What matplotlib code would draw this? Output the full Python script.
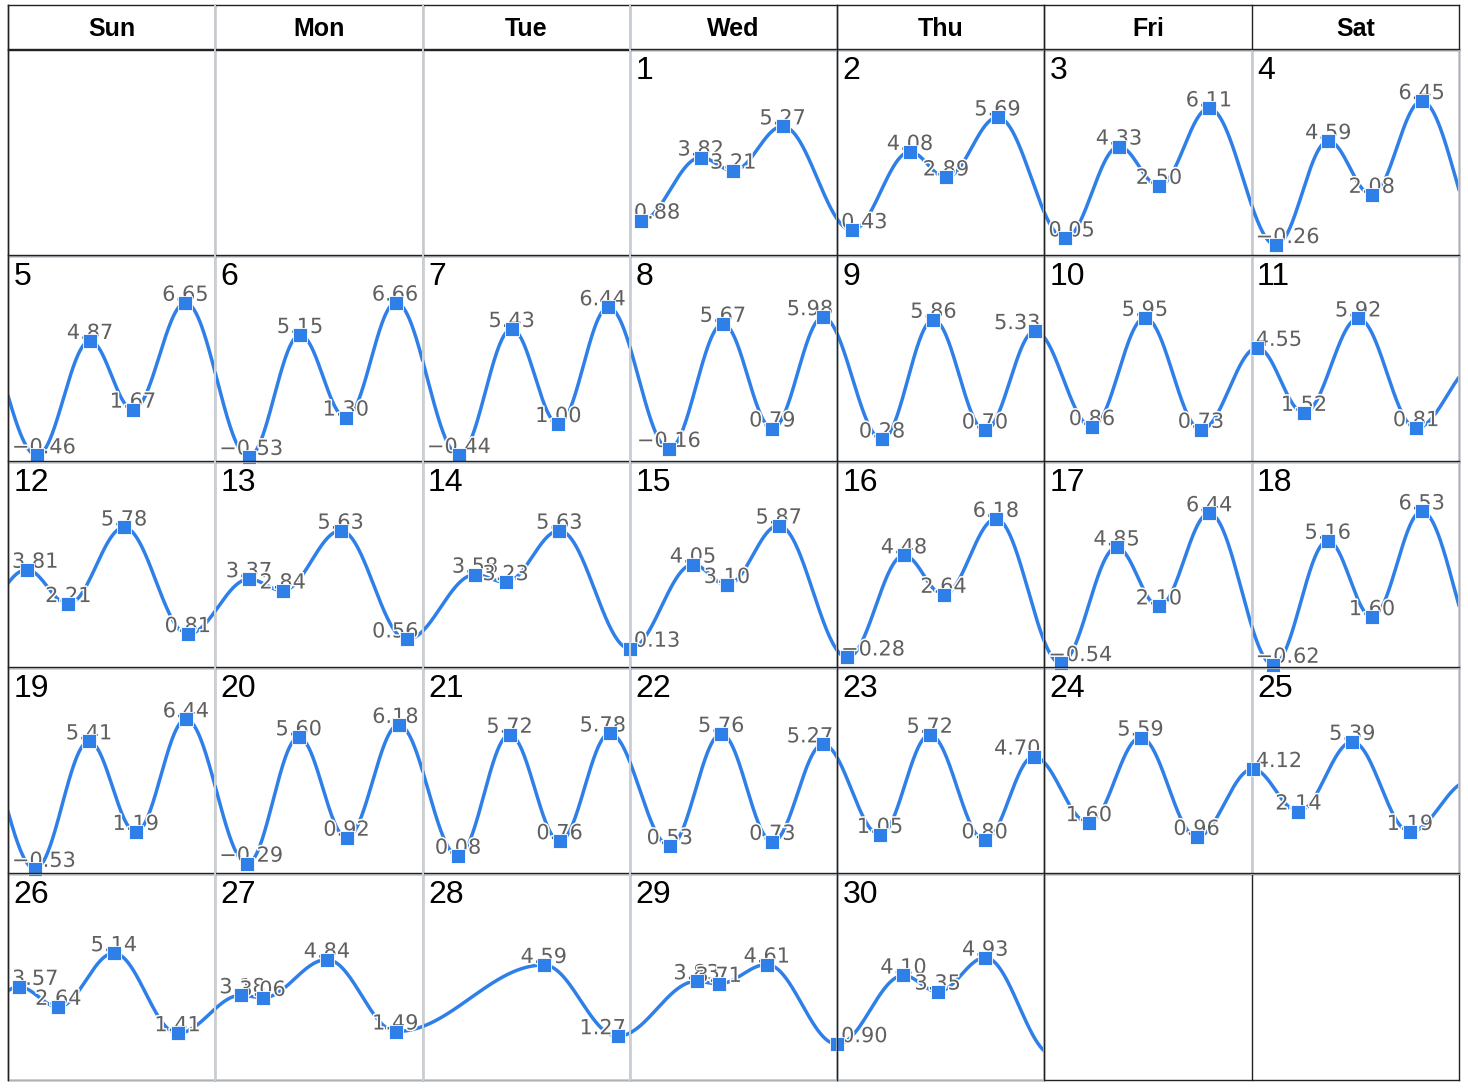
import numpy as np
import matplotlib
matplotlib.use('Agg')
import matplotlib.pyplot as plt
from matplotlib import patheffects as pe
from matplotlib.transforms import Bbox, TransformedBbox

W, H = 1468, 1088   # output size in px (dpi 100)

weekdays = ['Sun', 'Mon', 'Tue', 'Wed', 'Thu', 'Fri', 'Sat']
first_weekday = 3   # the 1st is a Wednesday
n_days = 30

# tide extremes: day of month, hour of day, height
tide_day = [1, 1, 1, 1,
            2, 2, 2, 2,
            3, 3, 3, 3,
            4, 4, 4, 4,
            5, 5, 5, 5,
            6, 6, 6, 6,
            7, 7, 7, 7,
            8, 8, 8, 8,
            9, 9, 9, 9,
            10, 10, 10,
            11, 11, 11, 11,
            12, 12, 12, 12,
            13, 13, 13, 13,
            14, 14, 14,
            15, 15, 15, 15,
            16, 16, 16, 16,
            17, 17, 17, 17,
            18, 18, 18, 18,
            19, 19, 19, 19,
            20, 20, 20, 20,
            21, 21, 21, 21,
            22, 22, 22, 22,
            23, 23, 23, 23,
            24, 24, 24,
            25, 25, 25, 25,
            26, 26, 26, 26,
            27, 27, 27, 27,
            28, 28,
            29, 29, 29,
            30, 30, 30, 30]
tide_hour = [1.25, 8.20, 11.97, 17.69,
             1.71, 8.43, 12.60, 18.58,
             2.38, 8.63, 13.26, 19.05,
             2.81, 8.87, 13.89, 19.68,
             3.36, 9.49, 14.47, 20.55,
             3.86, 9.81, 15.11, 20.92,
             4.21, 10.32, 15.72, 21.51,
             4.53, 10.78, 16.50, 22.36,
             5.19, 11.15, 17.11, 22.90,
             5.50, 11.64, 18.12,
             0.65, 6.05, 12.33, 19.02,
             2.17, 6.98, 13.43, 20.81,
             3.90, 7.80, 14.52, 22.16,
             6.07, 9.61, 15.84,
             0.0, 7.31, 11.24, 17.23,
             1.19, 7.73, 12.32, 18.38,
             1.89, 8.35, 13.25, 19.08,
             2.50, 8.81, 13.93, 19.69,
             3.14, 9.38, 14.80, 20.60,
             3.70, 9.67, 15.20, 21.22,
             4.10, 10.07, 15.87, 21.67,
             4.62, 10.58, 16.50, 22.36,
             4.96, 10.72, 17.07, 22.76,
             5.15, 11.13, 17.63,
             0.12, 5.41, 11.65, 18.32,
             1.25, 5.83, 12.26, 19.63,
             2.98, 5.48, 12.92, 20.98,
             14.04, 22.57,
             7.72, 10.28, 15.86,
             0.0, 7.68, 11.64, 17.15]
tide_height = [0.88, 3.82, 3.21, 5.27,
               0.43, 4.08, 2.89, 5.69,
               0.05, 4.33, 2.50, 6.11,
               -0.26, 4.59, 2.08, 6.45,
               -0.46, 4.87, 1.67, 6.65,
               -0.53, 5.15, 1.30, 6.66,
               -0.44, 5.43, 1.00, 6.44,
               -0.16, 5.67, 0.79, 5.98,
               0.28, 5.86, 0.70, 5.33,
               0.86, 5.95, 0.73,
               4.55, 1.52, 5.92, 0.81,
               3.81, 2.21, 5.78, 0.81,
               3.37, 2.84, 5.63, 0.56,
               3.58, 3.23, 5.63,
               0.13, 4.05, 3.10, 5.87,
               -0.28, 4.48, 2.64, 6.18,
               -0.54, 4.85, 2.10, 6.44,
               -0.62, 5.16, 1.60, 6.53,
               -0.53, 5.41, 1.19, 6.44,
               -0.29, 5.60, 0.92, 6.18,
               0.08, 5.72, 0.76, 5.78,
               0.53, 5.76, 0.73, 5.27,
               1.05, 5.72, 0.80, 4.70,
               1.60, 5.59, 0.96,
               4.12, 2.14, 5.39, 1.19,
               3.57, 2.64, 5.14, 1.41,
               3.18, 3.06, 4.84, 1.49,
               4.59, 1.27,
               3.83, 3.71, 4.61,
               0.90, 4.10, 3.35, 4.93]
# first low of the following month (hours after the end of day 30), shapes the last curve
next_low_hour = 1.0
next_low_height = 0.4

line_color = '#2f7fe8'
label_color = '#606060'
dark = '#222222'
light = '#c9cfd6'

# table geometry in px
x_left, x_right = 8, 1459
col_w = (x_right - x_left) / 7
head_top, head_bot = 5, 50
row_h = 206
n_rows = 5


def fx(x):
    return x / W


def fy(y):
    return 1 - y / H


# continuous curve over the month: cosine interpolation between extremes
t_pts = (np.array(tide_day) - 1) * 24 + np.array(tide_hour)
h_pts = np.array(tide_height)
t_all = np.append(t_pts, n_days * 24 + next_low_hour)
h_all = np.append(h_pts, next_low_height)
tt = np.linspace(t_all[0], t_all[-1], 30000)
idx = np.clip(np.searchsorted(t_all, tt, side='right') - 1, 0, len(t_all) - 2)
frac = (tt - t_all[idx]) / (t_all[idx + 1] - t_all[idx])
hh = h_all[idx] + (h_all[idx + 1] - h_all[idx]) * (1 - np.cos(np.pi * frac)) / 2

fig = plt.figure(figsize=(W / 100, H / 100), dpi=100)
fig.patch.set_facecolor('white')

# background grid
bg = fig.add_axes([0, 0, 1, 1], zorder=0)
bg.set_xlim(0, W)
bg.set_ylim(H, 0)
bg.axis('off')
rows_y = [head_top, head_bot] + [head_bot + row_h * (r + 1) for r in range(n_rows)]
for y in rows_y:
    bg.plot([x_left, x_right], [y, y], color=dark, lw=1.0)
for c in range(8):
    x = x_left + c * col_w
    bg.plot([x, x], [head_top, rows_y[-1]], color=dark, lw=1.0)
for c, name in enumerate(weekdays):
    bg.text(x_left + (c + 0.5) * col_w, (head_top + head_bot) / 2 + 1, name,
            ha='center', va='center', fontsize=18, fontweight='bold',
            family='Liberation Sans', color='black')

renderer = fig.canvas.get_renderer()
halo = [pe.withStroke(linewidth=2.2, foreground='white')]

for day in range(1, n_days + 1):
    slot = first_weekday + day - 1
    r, c = divmod(slot, 7)
    x0 = x_left + c * col_w
    y0 = head_bot + r * row_h
    ax = fig.add_axes([fx(x0), fy(y0 + row_h), col_w / W, row_h / H], zorder=1)
    ax.set_facecolor('none')
    d0 = (day - 1) * 24
    ax.set_xlim(d0, d0 + 24)
    ax.set_ylim(-0.77, 8.83)
    ax.set_xticks([])
    ax.set_yticks([])
    for s in ax.spines.values():
        s.set_color(light)
        s.set_linewidth(1.2)

    ax.plot(tt, hh, color=line_color, lw=2.5, solid_capstyle='round', zorder=2)
    mk, = ax.plot(t_pts, h_pts, ls='none', marker='s', ms=9.6, mfc=line_color,
                  mec='white', mew=0.6, zorder=4)
    mk.set_clip_box(TransformedBbox(Bbox([[0, -0.12], [1, 1.12]]), ax.transAxes))

    ax.text(0.026, 0.97, str(day), transform=ax.transAxes, ha='left', va='top',
            fontsize=23, family='Liberation Sans', color='black', zorder=5)

    ax_bb = ax.get_window_extent(renderer)
    sel = np.array(tide_day) == day
    for t, h in zip(t_pts[sel], h_pts[sel]):
        lab = f'{h:.2f}'.replace('-', '\u2212')
        txt = ax.text(t, h, lab, ha='center', va='baseline', fontsize=15,
                      family='DejaVu Sans', color=label_color, zorder=3,
                      path_effects=halo, clip_on=False)
        w = txt.get_window_extent(renderer).width
        xd, yd = ax.transData.transform((t, h))
        cx = min(max(xd, ax_bb.x0 + w / 2 + 4), ax_bb.x1 - w / 2 - 4)
        txt.set_position(ax.transData.inverted().transform((cx, yd + 2)))

# table lines that sit over the chart frames
top = fig.add_axes([0, 0, 1, 1], zorder=3)
top.set_xlim(0, W)
top.set_ylim(H, 0)
top.axis('off')
top.patch.set_alpha(0)
for y in rows_y[1:-1]:
    top.plot([x_left, x_right], [y - 1, y - 1], color=dark, lw=1.0)
for c in (1, 2, 3):
    x = x_left + c * col_w
    top.plot([x, x], [head_top, rows_y[-1]], color=light, lw=1.4)
for c in (0, 4, 5):
    x = x_left + c * col_w
    top.plot([x, x], [head_top, rows_y[-1]], color=dark, lw=1.0)

fig.savefig('out.png', dpi=100, facecolor='white')
